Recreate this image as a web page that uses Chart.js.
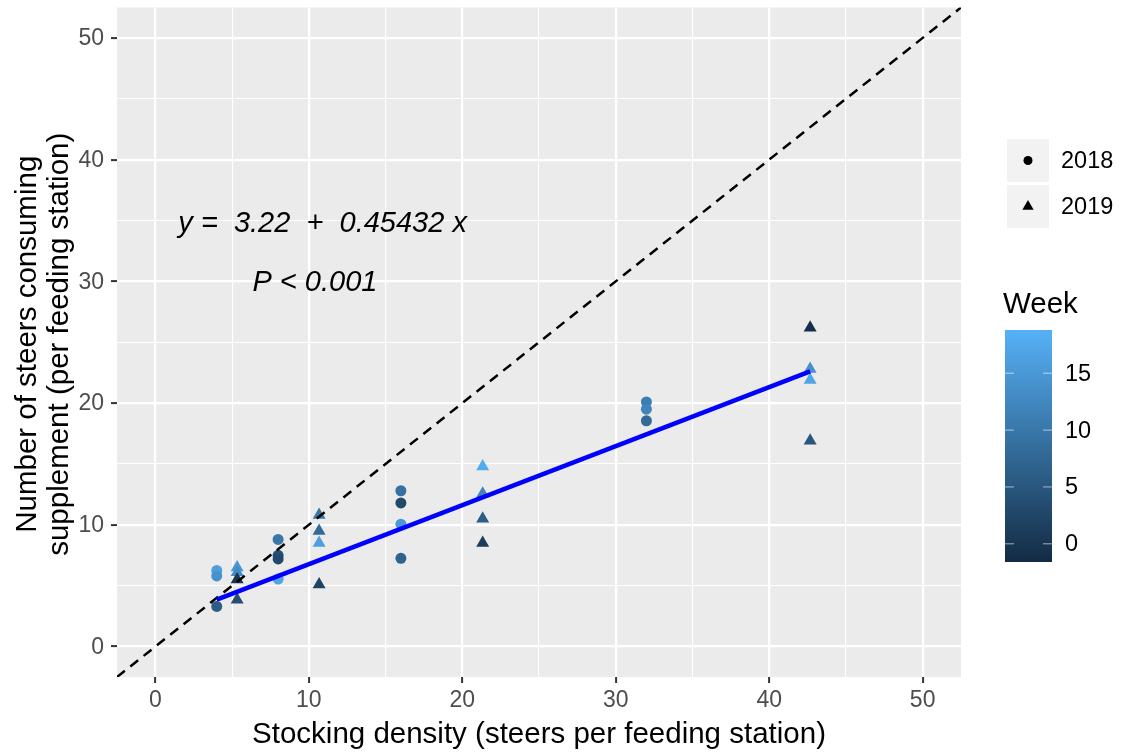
<!DOCTYPE html>
<html>
<head>
<meta charset="utf-8">
<script src="https://cdn.jsdelivr.net/npm/chart.js@4"></script>
<style>
    html, body { margin: 0; padding: 0; background: #ffffff; }
    #wrap { width: 1128px; height: 753px; position: relative; }
</style>
</head>
<body>
<div id="wrap"><canvas id="steerChart"></canvas></div>
<script>
// 2018 (circles)
const density2018 = [4, 4, 4, 8, 8, 8, 8, 16, 16, 16, 16, 32, 32, 32];
const steers2018  = [6.25, 5.8, 3.3, 8.8, 7.5, 7.2, 5.55, 12.8, 11.8, 10.05, 7.25, 20.1, 19.5, 18.55];
const week2018    = [16, 14, 6, 10, 4, 3, 17, 9, 3, 15, 7, 11, 12, 8];

// 2019 (triangles)
const density2019 = [5.33, 5.33, 5.33, 5.33, 10.67, 10.67, 10.67, 10.67, 21.33, 21.33, 21.33, 21.33, 42.67, 42.67, 42.67, 42.67];
const steers2019  = [6.5, 6.1, 5.5, 3.85, 10.8, 9.5, 8.5, 5.1, 14.8, 12.55, 10.5, 8.5, 26.2, 22.8, 21.9, 16.9];
const week2019    = [15, 13, 0, 4, 10, 8, 16, 2, 18, 12, 6, 1, -1, 14, 17, 5];

// fitted line and 1:1 reference line
const fitX = [4, 42.67];
const fitY = [3.85, 22.6];
const refX = [-2.5, 52.5];
const refY = [-2.5, 52.5];

// axes
const gridVals = [0, 5, 10, 15, 20, 25, 30, 35, 40, 45, 50];
const axisLabels = [0, 10, 20, 30, 40, 50];
const weekLow = -1.6;
const weekHigh = 18.8;
const weekTicks = [0, 5, 10, 15];
const yearLabels = ['2018', '2019'];

const lowCol = [0x13, 0x2B, 0x43];
const highCol = [0x56, 0xB1, 0xF7];

function weekColour(w) {
    const t = (w - weekLow) / (weekHigh - weekLow);
    const c = lowCol.map((v, i) => Math.round(v + (highCol[i] - v) * t));
    return `rgb(${c[0]},${c[1]},${c[2]})`;
}

const FONT = '"Liberation Sans", Arial, sans-serif';

function toPoints(xs, ys) {
    return xs.map((x, i) => ({ x: x, y: ys[i] }));
}

const ggPlot = {
    id: 'ggPlot',
    beforeDraw(chart) {
        const { ctx, chartArea: a } = chart;
        ctx.save();
        ctx.fillStyle = '#EBEBEB';
        ctx.fillRect(a.left, a.top, a.right - a.left, a.bottom - a.top);
        ctx.restore();
    },
    afterDraw(chart) {
        const { ctx, chartArea: a } = chart;
        const xs = chart.scales.x, ys = chart.scales.y;
        ctx.save();

        // tick labels
        ctx.fillStyle = '#4D4D4D';
        ctx.font = '23px ' + FONT;
        ctx.textAlign = 'center';
        ctx.textBaseline = 'middle';
        axisLabels.forEach(v => ctx.fillText(String(v), xs.getPixelForValue(v), 701));
        ctx.textAlign = 'right';
        axisLabels.forEach(v => ctx.fillText(String(v), 104, ys.getPixelForValue(v) + 1));

        // axis titles
        ctx.fillStyle = '#000000';
        ctx.font = '29.5px ' + FONT;
        ctx.textAlign = 'center';
        ctx.textBaseline = 'alphabetic';
        ctx.fillText('Stocking density (steers per feeding station)', (a.left + a.right) / 2, 743);
        ctx.save();
        ctx.translate(0, (a.top + a.bottom) / 2 + 2);
        ctx.rotate(-Math.PI / 2);
        ctx.fillText('Number of steers consuming', 0, 36);
        ctx.fillText('supplement (per feeding station)', 0, 68);
        ctx.restore();

        // annotations
        ctx.font = 'italic 29px ' + FONT;
        ctx.textBaseline = 'middle';
        ctx.fillText('y =  3.22  +  0.45432 x', xs.getPixelForValue(10.9), ys.getPixelForValue(34.7));
        ctx.fillText('P < 0.001', xs.getPixelForValue(10.4), ys.getPixelForValue(29.9));

        // shape legend
        const keyX = 1007, keyW = 42;
        yearLabels.forEach((lab, i) => {
            const top = 139 + i * 46;
            ctx.fillStyle = '#F2F2F2';
            ctx.fillRect(keyX, top, keyW, 43);
            ctx.fillStyle = '#000000';
            const cx = keyX + keyW / 2, cy = top + 21.5;
            ctx.beginPath();
            if (i === 0) {
                ctx.arc(cx, cy, 4.5, 0, Math.PI * 2);
            } else {
                const r = 6.5;
                ctx.moveTo(cx, cy - r);
                ctx.lineTo(cx + r * 0.866, cy + r / 2);
                ctx.lineTo(cx - r * 0.866, cy + r / 2);
                ctx.closePath();
            }
            ctx.fill();
            ctx.font = '23.5px ' + FONT;
            ctx.textAlign = 'left';
            ctx.textBaseline = 'middle';
            ctx.fillText(lab, 1061, cy + 1);
        });

        // colour bar
        ctx.font = '29.5px ' + FONT;
        ctx.textBaseline = 'alphabetic';
        ctx.fillText('Week', 1003, 313);
        const barL = 1005, barR = 1052, barT = 330, barB = 562;
        const grad = ctx.createLinearGradient(0, barB, 0, barT);
        grad.addColorStop(0, weekColour(weekLow));
        grad.addColorStop(0.5, weekColour((weekLow + weekHigh) / 2));
        grad.addColorStop(1, weekColour(weekHigh));
        ctx.fillStyle = grad;
        ctx.fillRect(barL, barT, barR - barL, barB - barT);
        ctx.font = '23.5px ' + FONT;
        ctx.textBaseline = 'middle';
        weekTicks.forEach(w => {
            const py = barB - (w - weekLow) / (weekHigh - weekLow) * (barB - barT);
            ctx.strokeStyle = 'rgba(255,255,255,0.6)';
            ctx.lineWidth = 1;
            ctx.beginPath();
            ctx.moveTo(barL, py); ctx.lineTo(barL + 9, py);
            ctx.moveTo(barR - 9, py); ctx.lineTo(barR, py);
            ctx.stroke();
            ctx.fillStyle = '#000000';
            ctx.fillText(String(w), 1065, py + 1);
        });

        ctx.restore();
    }
};

function gridWidth(ctx) {
    return ctx.tick && ctx.tick.value % 10 === 0 ? 2.2 : 1.1;
}
function tickCol(ctx) {
    return ctx.tick && ctx.tick.value % 10 === 0 ? '#333333' : 'rgba(0,0,0,0)';
}

new Chart(document.getElementById('steerChart'), {
    type: 'scatter',
    data: {
        datasets: [
            {
                label: 'fit',
                data: toPoints(fitX, fitY),
                showLine: true,
                borderColor: '#0000FF',
                borderWidth: 4.5,
                pointRadius: 0,
                order: 0
            },
            {
                label: '1:1',
                data: toPoints(refX, refY),
                showLine: true,
                borderColor: '#000000',
                borderWidth: 2.5,
                borderDash: [10, 7],
                pointRadius: 0,
                order: 0
            },
            {
                label: '2018',
                data: toPoints(density2018, steers2018),
                pointStyle: 'circle',
                pointRadius: 5.5,
                pointBorderWidth: 0,
                pointBackgroundColor: ctx => weekColour(week2018[ctx.dataIndex]),
                order: 1
            },
            {
                label: '2019',
                data: toPoints(density2019, steers2019),
                pointStyle: 'triangle',
                pointRadius: 7.5,
                pointBorderWidth: 0,
                pointBackgroundColor: ctx => weekColour(week2019[ctx.dataIndex]),
                order: 1
            }
        ]
    },
    options: {
        responsive: true,
        maintainAspectRatio: false,
        animation: false,
        events: [],
        layout: { padding: { left: 0, top: 7, right: 167, bottom: 0 } },
        plugins: { legend: { display: false }, tooltip: { enabled: false } },
        scales: {
            x: {
                type: 'linear', min: -2.5, max: 52.5,
                afterBuildTicks: s => { s.ticks = gridVals.map(v => ({ value: v })); },
                afterFit: s => { s.height = 76; },
                ticks: { display: false, autoSkip: false },
                border: { display: false },
                grid: { color: '#FFFFFF', lineWidth: gridWidth, tickColor: tickCol, tickLength: 6, tickWidth: 2 }
            },
            y: {
                type: 'linear', min: -2.5, max: 52.5,
                afterBuildTicks: s => { s.ticks = gridVals.map(v => ({ value: v })); },
                afterFit: s => { s.width = 117; },
                ticks: { display: false, autoSkip: false },
                border: { display: false },
                grid: { color: '#FFFFFF', lineWidth: gridWidth, tickColor: tickCol, tickLength: 6, tickWidth: 2 }
            }
        }
    },
    plugins: [ggPlot]
});
</script>
</body>
</html>
